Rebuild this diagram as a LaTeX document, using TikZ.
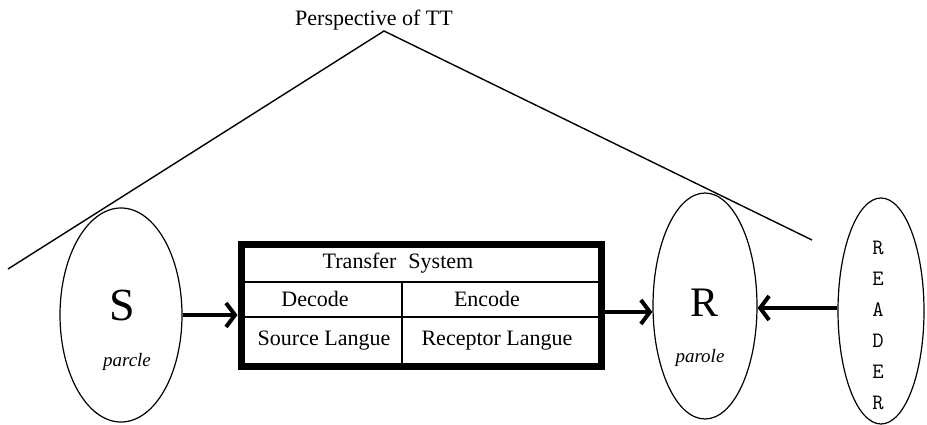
\documentclass[tikz,border=0pt]{standalone}
\usepackage{fontspec}
\setmainfont{Liberation Serif}
\usetikzlibrary{shapes.geometric,arrows.meta}
\begin{document}
\begin{tikzpicture}[x=1pt,y=-1pt,
  ell/.style={draw, ellipse, line width=1.2pt, inner sep=0pt},
  thinline/.style={line width=1.6pt},
  bigarrow/.style={line width=4pt, -{Straight Barb[length=9pt,width=24pt,line width=4pt]}},
  lab/.style={font=\fontsize{22}{25}\selectfont, inner sep=0pt},
  paro/.style={font=\fontsize{19}{22}\selectfont\itshape, inner sep=0pt}]
\useasboundingbox (0,0) rectangle (927,425);
% perspective lines
\node[lab] (persp) at (374,20) {Perspective of TT};
\coordinate (apex) at (384,31);
\coordinate (lend) at (8,269);
\coordinate (rend) at (812,240);
\draw[line width=1.4pt] (lend) -- (apex) -- (rend);
% ellipses
\node[ell, minimum width=122pt, minimum height=214pt] (S) at (121,315) {};
\node[ell, minimum width=104pt, minimum height=226pt] (R) at (705,306) {};
\node[ell, minimum width=86pt, minimum height=226pt] (READER) at (881,311) {};
\node[font=\fontsize{46}{50}\selectfont, inner sep=0pt] (Slab) at (122,305) {S};
\node[paro] (Spar) at (127,362) {parcle};
\node[font=\fontsize{42}{46}\selectfont, inner sep=0pt] (Rlab) at (705,303) {R};
\node[paro] (Rpar) at (700,358) {parole};
\node[font=\fontsize{22}{31}\selectfont\ttfamily, align=center, inner sep=0pt] (rd) at (878,325) {R\\E\\A\\D\\E\\R};
% transfer box
\node[draw, line width=7pt, minimum width=360pt, minimum height=122pt, inner sep=0pt] (box) at (421,305) {};
\coordinate (h1) at (0,282);
\coordinate (h2) at (0,317);
\coordinate (vtop) at (402,282);
\draw[thinline] (box.west |- h1) -- (box.east |- h1);
\draw[thinline] (box.west |- h2) -- (box.east |- h2);
\draw[thinline] (vtop) -- (vtop |- box.south);
\node[lab] (ts) at (398,263) {Transfer\hspace{12pt}System};
\node[lab] (dec) at (315,299) {Decode};
\node[lab] (enc) at (487,299) {Encode};
\node[lab] (sl) at (324,341) {Source Langue};
\node[lab] (rl) at (497,341) {Receptor Langue};
% arrows
\draw[bigarrow] (S.east) -- (S.east -| box.west);
\coordinate (a2) at (0,312);
\draw[bigarrow] (box.east |- a2) -- (R.west |- a2);
\coordinate (a3) at (0,308);
\draw[bigarrow] (READER.west |- a3) -- (R.east |- a3);
\end{tikzpicture}
\end{document}
